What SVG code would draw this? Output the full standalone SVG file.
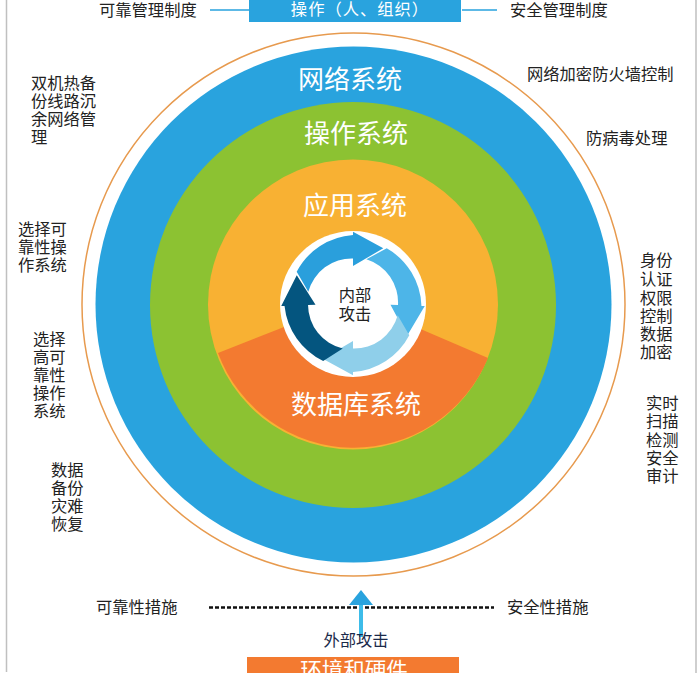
<svg xmlns="http://www.w3.org/2000/svg" width="700" height="673" viewBox="0 0 700 673">
<style>
text{font-family:"Liberation Sans","Noto Sans CJK SC",sans-serif;font-size:16.3px;fill:#222;}
.t{fill:#fff;font-size:26px;text-anchor:middle;}
.m{text-anchor:middle;}
.l{stroke:#29a3de;stroke-width:1.5;fill:none;}
</style>
<defs>
<path id="ar" d="M296.7 271.7A69 69 0 0 1 353 235L353 231.7L383.3 248.3L353 266L353 258.5A45 45 0 0 0 308.3 291.7Z"/>
</defs>
<rect width="700" height="673" fill="#fff"/>
<g id="frame"><path d="M6.5 0V672M696 0V673" stroke="#c0c0c0" stroke-width="1.5" fill="none"/></g>
<g id="connectors">
<path class="l" d="M210 10H250M462 10H497"/>
<path d="M209 607.5H494" stroke="#111" stroke-width="2.5" stroke-dasharray="4 2" fill="none"/>
<rect x="359" y="603" width="4" height="34" fill="#3dbce9"/>
<path d="M349 605L361 590L373 605Z" fill="#29a3de"/>
</g>
<g id="rings">
<circle cx="353.5" cy="304.5" r="271.5" fill="#fff" stroke="#e79a4e" stroke-width="1.5"/>
<circle cx="353.5" cy="304.5" r="258" fill="#29a3de"/>
<circle cx="353" cy="305" r="203" fill="#8cc232"/>
<circle cx="353" cy="304.5" r="145" fill="#f8b133"/>
<path d="M218 353L353 300L488 358A145 145 0 0 1 218 353Z" fill="#f37a30"/>
<circle cx="353" cy="304" r="73" fill="#fff"/>
</g>
<g id="cycle">
<use href="#ar" fill="#2a9fdc"/>
<use href="#ar" fill="#4db5e8" transform="rotate(92 353 303.5)"/>
<use href="#ar" fill="#8fcfea" transform="rotate(180 353 303.5)"/>
<use href="#ar" fill="#04557f" transform="rotate(268 353 303.5)"/>
</g>
<g id="node-network"><text class="t" x="350" y="89">网络系统</text></g>
<g id="node-os"><text class="t" x="356" y="143">操作系统</text></g>
<g id="node-app"><text class="t" x="355" y="215">应用系统</text></g>
<g id="node-db"><text class="t" x="356" y="414">数据库系统</text></g>
<g id="node-inner"><text class="m" x="355" y="301">内部</text><text class="m" x="355" y="320">攻击</text></g>
<g id="node-ops"><rect x="249" y="0" width="212" height="22" fill="#29a3de"/><text x="360" y="15" class="m" style="fill:#fff;letter-spacing:1px">操作（人、组织）</text></g>
<g id="node-env"><rect x="247" y="657" width="212" height="16" fill="#f37a30"/><text x="354" y="678" class="m" style="fill:#fff;font-size:21.5px">环境和硬件</text></g>
<g id="labels">
<text x="99" y="16">可靠管理制度</text>
<text x="510" y="16">安全管理制度</text>
<text x="527" y="80">网络加密防火墙控制</text>
<text x="586" y="144">防病毒处理</text>
<text x="96" y="613">可靠性措施</text>
<text x="507" y="613">安全性措施</text>
<text x="356" y="646" class="m" style="fill:#1b2a4a">外部攻击</text>
<text x="31" y="89">双机热备</text><text x="31" y="107">份线路沉</text><text x="31" y="125">余网络管</text><text x="31" y="143">理</text>
<text x="18" y="235">选择可</text><text x="18" y="253">靠性操</text><text x="18" y="271">作系统</text>
<text x="33" y="345">选择</text><text x="33" y="363">高可</text><text x="33" y="381">靠性</text><text x="33" y="399">操作</text><text x="33" y="417">系统</text>
<text x="51" y="476">数据</text><text x="51" y="494">备份</text><text x="51" y="512">灾难</text><text x="51" y="530">恢复</text>
<text x="640" y="266">身份</text><text x="640" y="285">认证</text><text x="640" y="304">权限</text><text x="640" y="322">控制</text><text x="640" y="340">数据</text><text x="640" y="358">加密</text>
<text x="646" y="409">实时</text><text x="646" y="427">扫描</text><text x="646" y="446">检测</text><text x="646" y="464">安全</text><text x="646" y="482">审计</text>
</g>
</svg>
